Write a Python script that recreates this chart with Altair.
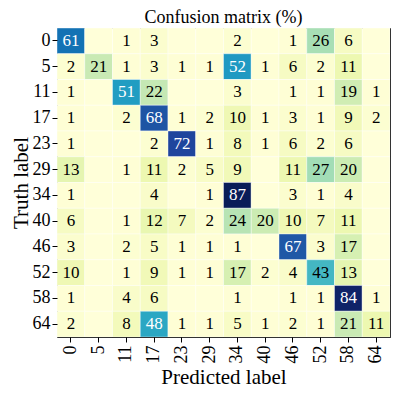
import altair as alt
import pandas as pd

labels = ["0", "5", "11", "17", "23", "29", "34", "40", "46", "52", "58", "64"]

row_0 = [61, 0, 1, 3, 0, 0, 2, 0, 1, 26, 6, 0]
row_5 = [2, 21, 1, 3, 1, 1, 52, 1, 6, 2, 11, 0]
row_11 = [1, 0, 51, 22, 0, 0, 3, 0, 1, 1, 19, 1]
row_17 = [1, 0, 2, 68, 1, 2, 10, 1, 3, 1, 9, 2]
row_23 = [1, 0, 0, 2, 72, 1, 8, 1, 6, 2, 6, 0]
row_29 = [13, 0, 1, 11, 2, 5, 9, 0, 11, 27, 20, 0]
row_34 = [1, 0, 0, 4, 0, 1, 87, 0, 3, 1, 4, 0]
row_40 = [6, 0, 1, 12, 7, 2, 24, 20, 10, 7, 11, 0]
row_46 = [3, 0, 2, 5, 1, 1, 1, 0, 67, 3, 17, 0]
row_52 = [10, 0, 1, 9, 1, 1, 17, 2, 4, 43, 13, 0]
row_58 = [1, 0, 4, 6, 0, 0, 1, 0, 1, 1, 84, 1]
row_64 = [2, 0, 8, 48, 1, 1, 5, 1, 2, 1, 21, 11]

matrix = [row_0, row_5, row_11, row_17, row_23, row_29,
          row_34, row_40, row_46, row_52, row_58, row_64]

records = []
for t, row in zip(labels, matrix):
    for p, v in zip(labels, row):
        records.append({"truth": t, "pred": p, "value": v})
df = pd.DataFrame(records)

font = "'Liberation Serif', 'Times New Roman', Times, serif"
ylgnbu = ["#ffffd9", "#edf8b1", "#c7e9b4", "#7fcdbb", "#41b6c4",
          "#1d91c0", "#225ea8", "#253494", "#081d58"]
vmax = 87
dom = [vmax * i / 8 for i in range(9)]

x = alt.X("pred:O", sort=labels, title="Predicted label",
          axis=alt.Axis(labelAngle=270, labelPadding=3, titlePadding=3,
                        labelFont=font, titleFont=font))
y = alt.Y("truth:O", sort=labels, title="Truth label",
          axis=alt.Axis(labelPadding=2, titlePadding=1,
                        labelFont=font, titleFont=font))

heat = alt.Chart(df).mark_rect(stroke="white", strokeWidth=0.8, strokeOpacity=0.5).encode(
    x=x, y=y,
    color=alt.Color("value:Q", scale=alt.Scale(domain=dom, range=ylgnbu), legend=None),
)

text = alt.Chart(df).transform_filter("datum.value > 0").mark_text(
    font=font, fontSize=17, baseline="middle"
).encode(
    x=x, y=y,
    text="value:Q",
    color=alt.condition("datum.value > 43.5", alt.value("white"), alt.value("black")),
)

chart = (heat + text).properties(
    width=333, height=309,
    title=alt.TitleParams("Confusion matrix (%)", font=font, fontSize=18,
                          fontWeight="normal", anchor="middle", offset=1, color="black"),
    padding={"left": 49, "top": 20, "right": 1, "bottom": 54},
    autosize=alt.AutoSizeParams(type="none"),
).configure(font=font).configure_view(stroke="black", strokeWidth=1).configure_scale(
    bandPaddingInner=0, bandPaddingOuter=0
).configure_axis(
    labelFont=font, labelFontSize=18, labelColor="black",
    titleFont=font, titleFontSize=21, titleFontWeight="normal", titleColor="black",
    tickColor="black", tickSize=5, domain=False, grid=False,
)

chart.save("out.html", embed_options={"renderer": "svg", "actions": False})
